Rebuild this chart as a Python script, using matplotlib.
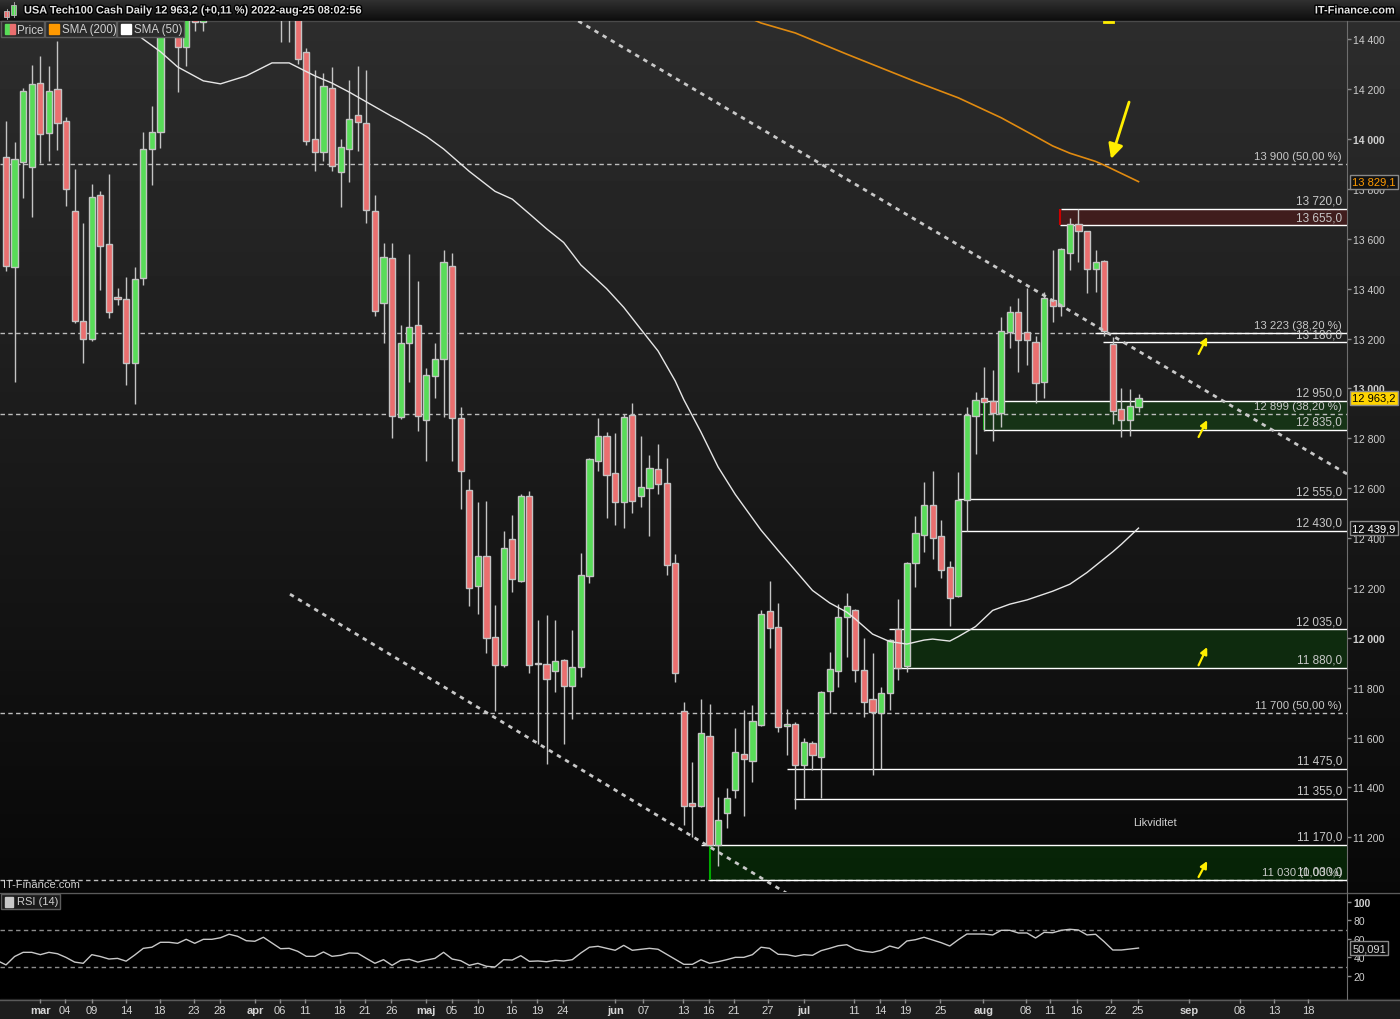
import numpy as np
import matplotlib
matplotlib.use("Agg")
import matplotlib.pyplot as plt
import matplotlib.patheffects as pe
from matplotlib.patches import Rectangle
from matplotlib.transforms import blended_transform_factory

plt.rcParams['font.family'] = ['Liberation Sans', 'DejaVu Sans']

# daily candles, index 0 = first bar on the left (late feb 2022)
opens = [13927, 13486, 13907, 13887, 14224, 14024, 14200, 14072, 13711, 13270,
         13198, 13775, 13579, 13365, 13358, 13101, 13442, 13960, 14028, 14440,
         14560, 14369, 14540, 14469, 14560, 14850, 15050, 14900, 14780, 14850,
         14900, 14650, 14600, 14500, 14560, 14349, 14000, 13948, 14204, 13867,
         13960, 14096, 14064, 13711, 13342, 13523, 12885, 13182, 13254, 12873,
         13050, 13118, 13491, 12881, 12592, 12207, 12328, 12003, 11890, 12396,
         12227, 12568, 11898, 11894, 11866, 11910, 11806, 11883, 12248, 12709,
         12809, 12660, 12544, 12893, 12568, 12600, 12676, 12620, 12300, 11706,
         11337, 11325, 11606, 11169, 11297, 11389, 11534, 11506, 11650, 12107,
         12043, 11646, 11654, 11490, 11578, 11522, 11786, 11866, 12083, 12111,
         11871, 11754, 11698, 11778, 12035, 11887, 12300, 12412, 12532, 12408,
         12284, 12167, 12552, 12889, 12961, 12949, 12901, 13226, 13306, 13226,
         13186, 13026, 13354, 13330, 13543, 13659, 13631, 13479, 13511, 13178,
         12917, 12873, 12925]
highs = [14072, 13988, 14204, 14296, 14332, 14292, 14393, 14088, 13879, 13663,
         13819, 13790, 13859, 13402, 13446, 13486, 14028, 14132, 14520, 14620,
         14640, 14600, 14620, 14640, 14900, 15150, 15100, 14950, 14900, 14950,
         14920, 14700, 14650, 14620, 14600, 14365, 14276, 14264, 14288, 14000,
         14236, 14292, 14276, 13775, 13583, 13583, 13254, 13539, 13430, 13082,
         13182, 13555, 13543, 12925, 12636, 12544, 12548, 12131, 12428, 12492,
         12576, 12588, 12071, 12091, 12071, 11914, 12031, 12340, 12720, 12881,
         12825, 12821, 12897, 12941, 12809, 12732, 12777, 12721, 12336, 11742,
         11502, 11754, 11734, 11361, 11397, 11638, 11710, 11730, 12111, 12227,
         12139, 11714, 11662, 11598, 11586, 11786, 11943, 12135, 12179, 12115,
         11999, 11939, 11802, 11995, 12155, 12304, 12488, 12624, 12668, 12472,
         12308, 12665, 12925, 12985, 13086, 13074, 13286, 13330, 13362, 13402,
         13210, 13386, 13555, 13563, 13683, 13719, 13633, 13555, 13515, 13206,
         13001, 12997, 12977]
lows = [13470, 13025, 13763, 13687, 13903, 13911, 13956, 13731, 13262, 13101,
        13190, 13394, 13282, 13334, 13013, 12937, 13414, 13815, 13964, 14420,
        14188, 14293, 14433, 14433, 14520, 14800, 14850, 14700, 14680, 14750,
        14600, 14500, 14389, 14389, 14301, 13976, 13871, 13911, 13871, 13727,
        13827, 13952, 13663, 13290, 13182, 12801, 12877, 13025, 12829, 12709,
        12961, 12885, 12709, 12516, 12127, 12095, 11939, 11706, 11885, 12183,
        12222, 11858, 11574, 11494, 11782, 11574, 11674, 11842, 12220, 12668,
        12480, 12452, 12440, 12500, 12524, 12408, 12576, 12251, 11822, 11249,
        11201, 11321, 11165, 11085, 11237, 11357, 11285, 11421, 11646, 11959,
        11622, 11530, 11313, 11357, 11470, 11357, 11698, 11802, 11923, 11822,
        11682, 11450, 11474, 11710, 11830, 11863, 12203, 12344, 12316, 12240,
        12047, 12163, 12428, 12737, 12829, 12789, 12845, 13162, 13066, 13094,
        12941, 12961, 13266, 13290, 13475, 13507, 13382, 13386, 13210, 12857,
        12805, 12809, 12905]
closes = [13490, 13919, 14192, 14220, 14020, 14192, 14064, 13799, 13270, 13198,
          13767, 13571, 13306, 13360, 13101, 13438, 13960, 14028, 14440, 14560,
          14369, 14540, 14469, 14560, 14850, 15050, 14900, 14780, 14850, 14900,
          14650, 14580, 14500, 14560, 14321, 13992, 13948, 14212, 13891, 13968,
          14080, 14068, 13715, 13310, 13527, 12889, 13182, 13246, 12889, 13054,
          13118, 13507, 12881, 12668, 12199, 12328, 11999, 11890, 12360, 12236,
          12568, 11890, 11894, 11834, 11906, 11806, 11883, 12252, 12717, 12809,
          12653, 12544, 12885, 12548, 12604, 12680, 12616, 12292, 11859, 11325,
          11325, 11618, 11169, 11269, 11357, 11542, 11514, 11666, 12095, 12039,
          11642, 11654, 11490, 11582, 11530, 11782, 11874, 12083, 12127, 11871,
          11742, 11702, 11778, 11991, 11879, 12300, 12420, 12532, 12400, 12272,
          12159, 12552, 12893, 12953, 12945, 12901, 13230, 13306, 13194, 13194,
          13022, 13362, 13330, 13559, 13659, 13631, 13479, 13507, 13230, 12909,
          12873, 12929, 12963]

# moving averages (bar index, value)
sma50_idx = [13, 16, 18, 20, 23, 25, 28, 31, 33, 36, 38, 40, 45, 46, 49, 51, 54, 57,
             59, 61, 63, 65, 67, 70, 72, 74, 76, 78, 79, 81, 83, 85, 88, 90, 91, 92,
             94, 96, 98, 99, 101, 103, 105, 107, 108, 110, 111, 113, 115, 117, 119,
             122, 124, 126, 129, 130, 132]
sma50_val = [14480, 14400, 14350, 14289, 14233, 14221, 14253, 14305, 14305, 14253,
             14224, 14188, 14090, 14072, 14010, 13960, 13870, 13790, 13759, 13700,
             13640, 13585, 13495, 13400, 13325, 13237, 13150, 13030, 12955, 12825,
             12685, 12575, 12432, 12350, 12310, 12270, 12190, 12140, 12103, 12075,
             12015, 11985, 11975, 11991, 11995, 11987, 12005, 12045, 12110, 12135,
             12152, 12187, 12215, 12262, 12345, 12375, 12440]
sma200_idx = [85, 88, 92, 98, 102, 106, 111, 116, 120, 122, 124, 127, 128, 130, 132]
sma200_val = [14510, 14465, 14425, 14340, 14285, 14230, 14165, 14085, 14010, 13972,
              13943, 13910, 13895, 13862, 13829]

# RSI(14), first value at index -1
rsi = [36.5, 32, 41, 45.5, 45.5, 43, 45.5, 44, 40, 35,
       33.7, 43, 41, 38.3, 39, 36, 42.6, 49.8, 51, 56.3,
       56.3, 55.2, 59.5, 55.2, 59.5, 59.5, 61.2, 65, 62.7, 58,
       57.4, 61.7, 55.5, 49.4, 49.8, 46.6, 41.2, 41.2, 45.9, 41.2,
       42.3, 44.8, 44.5, 39, 33.7, 37.6, 31.5, 36.9, 38, 35,
       37.2, 39, 45.5, 38.3, 36.5, 31.5, 33.7, 30.5, 29.7, 37.6,
       37.2, 41.9, 35.8, 36.2, 35.4, 36.9, 36.2, 37.6, 44.8, 51,
       52, 49.8, 47.7, 53, 47.7, 48.8, 49.8, 48.8, 43.4, 38,
       32.6, 32.6, 37.5, 33.7, 35.4, 37.6, 40.1, 40.1, 43, 51,
       49.8, 43.4, 43, 41.2, 43, 42.3, 47.3, 49.8, 52.6, 53.7,
       48.8, 46.6, 45.5, 47.7, 52.3, 49.8, 57.7, 59.1, 61.7, 58.8,
       55.9, 52.3, 59.1, 65.2, 65.2, 65.2, 64.2, 69.2, 69.2, 66.3,
       66.3, 60.9, 67, 66.6, 69.2, 70.3, 69.5, 64.2, 64.9, 56.9,
       48, 48, 49, 50.1]

# fibonacci levels (dashed, full width)
fib_values = [13900, 13223, 12899, 11700, 11030]
fib_labels = ["13 900 (50,00 %)", "13 223 (38,20 %)", "12 899 (38,20 %)",
              "11 700 (50,00 %)", "11 030 (0,00 %)"]

# horizontal levels drawn from a given bar to the right edge
level_values = [13720, 13655, 13223, 13186, 12950, 12835, 12555, 12430,
                12035, 11880, 11475, 11355, 11170, 11030]
level_start = [123, 122.9, 126.9, 127.9, 114, 114, 111, 111,
               102.9, 102.9, 91, 91.9, 81, 81.9]
level_labels = ["13 720,0", "13 655,0", "", "13 186,0", "12 950,0", "12 835,0",
                "12 555,0", "12 430,0", "12 035,0", "11 880,0", "11 475,0",
                "11 355,0", "11 170,0", "11 030,0"]

# zones
zone_lo = [13655, 12835, 11880, 11030]
zone_hi = [13720, 12950, 12035, 11170]
zone_start = [122.9, 114, 104, 82]
zone_col = ['#cc0000', '#00aa00', '#00aa00', '#00aa00']

# trend lines (bar index, price)
trend_hi_x, trend_hi_y = [66.7, 160], [14473, 12582]
trend_lo_x, trend_lo_y = [33.1, 92], [12175, 10955]

# yellow arrows: (x_from, y_from, x_to, y_to)
big_arrow = (130.9, 14148, 128.8, 13920)
small_arrows = [(139.0, 13138, 140.0, 13206), (139.0, 12805, 140.0, 12873),
                (139.0, 11890, 140.0, 11963), (139.0, 11041, 140.0, 11105)]

price_ticks = list(range(11200, 14401, 200))
bold_ticks = [12000, 13000, 14000]

date_pos = [4.0, 6.9, 10.0, 14.0, 17.9, 21.9, 24.9, 29.0, 31.9, 34.8, 38.9, 41.8,
            44.9, 49.0, 52.0, 55.0, 58.9, 61.9, 64.9, 71.0, 74.3, 78.9, 81.9, 84.8,
            88.8, 93.0, 98.8, 101.9, 104.8, 108.9, 113.9, 118.9, 121.7, 124.8,
            128.8, 131.9, 137.9, 143.8, 147.8, 151.8]
date_lbl = ['mar', '04', '09', '14', '18', '23', '28', 'apr', '06', '11', '18', '21',
            '26', 'maj', '05', '10', '16', '19', '24', 'jun', '07', '13', '16', '21',
            '27', 'jul', '11', '14', '19', '25', 'aug', '08', '11', '16', '22', '25',
            'sep', '08', '13', '18']
months = {'mar', 'apr', 'maj', 'jun', 'jul', 'aug', 'sep'}

W, H = 1400, 1020
XL = (-0.7, 156.3)
TXT = '#d0d0d0'

fig = plt.figure(figsize=(W / 100, H / 100), dpi=100)
fig.patch.set_facecolor('black')

# background
bg = fig.add_axes([0, 0, 1, 1])
bg.imshow(np.linspace(0.2, 0.05, 64)[:, None], cmap='gray', vmin=0, vmax=1,
          extent=(0, W, 22, 0), aspect='auto')
bg.imshow(np.linspace(0.175, 0.03, 256)[:, None], cmap='gray', vmin=0, vmax=1,
          extent=(0, W, 893, 22), aspect='auto')
bg.add_patch(Rectangle((0, 893), W, 107, color='black'))
bg.add_patch(Rectangle((0, 1000), W, 20, color='#1d1d1d'))
bg.plot([0, W], [22, 22], color='#4a4a4a', lw=1)
bg.plot([0, W], [893.5, 893.5], color='#5a5a5a', lw=1)
bg.plot([0, W], [1000.5, 1000.5], color='#5a5a5a', lw=1)
bg.set_xlim(0, W)
bg.set_ylim(H, 0)
bg.axis('off')

# price panel
ax = fig.add_axes([0, 1 - 893 / H, 1347 / W, 871 / H])
ax.set_facecolor('none')
ax.set_xlim(*XL)
ax.set_ylim(10981, 14473)

for v in fib_values:
    ax.axhline(v, color='#bdbdbd', lw=1, dashes=(3.2, 2.4), zorder=2)

for lo, hi, x0, col in zip(zone_lo, zone_hi, zone_start, zone_col):
    ax.fill_between([x0, XL[1]], lo, hi, color=col, alpha=0.17, lw=0, zorder=1.5)
    ax.vlines(x0, lo, hi, color=col, lw=1.5, zorder=2.6)

ax.hlines(level_values, level_start, XL[1], colors='white', lw=1, zorder=2.5)

ax.plot(trend_hi_x, trend_hi_y, color='#c8c8c8', lw=2, dashes=(1.6, 1.8), zorder=5)
ax.plot(trend_lo_x, trend_lo_y, color='#c8c8c8', lw=2, dashes=(1.6, 1.8), zorder=5)

o = np.array(opens, dtype=float)
c = np.array(closes, dtype=float)
idx = np.arange(len(c))
up = c >= o
body_lo = np.minimum(o, c)
body_h = np.maximum(np.abs(c - o), 5)
ax.vlines(idx, lows, highs, color='#c4c4c4', lw=1, zorder=3)
ax.bar(idx, body_h, bottom=body_lo, width=0.72,
       color=np.where(up, '#58dc58', '#ea6f6f'), edgecolor='#c4c4c4',
       linewidth=1, zorder=4)

ax.plot(sma50_idx, sma50_val, color='#e6e6e6', lw=1, zorder=5)
ax.plot(sma200_idx, sma200_val, color='#e08a10', lw=1.2, zorder=5)

# level and fib labels at the right edge
tr = blended_transform_factory(ax.transAxes, ax.transData)
for v, t in zip(fib_values, fib_labels):
    ax.annotate(t, xy=(1, v), xycoords=tr, xytext=(-5, 5), textcoords='offset pixels',
                ha='right', va='baseline', color='#c8c8c8', fontsize=8.2, zorder=6)
for v, t in zip(level_values, level_labels):
    if t:
        ax.annotate(t, xy=(1, v), xycoords=tr, xytext=(-5, 5), textcoords='offset pixels',
                    ha='right', va='baseline', color='#c8c8c8', fontsize=8.5, zorder=6)

ax.text(133.9, 11261, 'Likviditet', color=TXT, fontsize=8, ha='center', va='center')

ax.annotate('', xy=big_arrow[2:], xytext=big_arrow[:2],
            arrowprops=dict(arrowstyle='-|>', color='#ffee00', lw=2,
                            mutation_scale=22, shrinkA=0, shrinkB=0), zorder=7)
for a in small_arrows:
    ax.annotate('', xy=a[2:], xytext=a[:2],
                arrowprops=dict(arrowstyle='-|>', color='#ffee00', lw=1.6,
                                mutation_scale=10, shrinkA=0, shrinkB=0), zorder=7)
ax.plot([128.0, 129.0], [14468, 14468], color='#ffee00', lw=2, zorder=7)

ax.text(0.002, 0.004, 'IT-Finance.com', transform=ax.transAxes, color=TXT,
        fontsize=8, ha='left', va='bottom')

ax.yaxis.tick_right()
ax.set_yticks(price_ticks)
ax.set_yticklabels([f"{v:,}".replace(",", " ") for v in price_ticks])
for lab, v in zip(ax.get_yticklabels(), price_ticks):
    if v in bold_ticks:
        lab.set_fontweight('bold')
        lab.set_fontsize(8.5)
        lab.set_color('white')
ax.tick_params(axis='y', colors='#8a8a8a', labelcolor='#cfcfcf', labelsize=7.5,
               length=3, width=1, pad=1.5)
ax.set_xticks([])
for s in ['top', 'bottom', 'left']:
    ax.spines[s].set_visible(False)
ax.spines['right'].set_color('#6e6e6e')

# current price boxes on the right axis
ax.text(1.004, 13829, '13 829,1', transform=tr, color='#ff9a00', fontsize=8,
        va='center', ha='left', clip_on=False, zorder=10,
        bbox=dict(boxstyle='square,pad=0.18', fc='#121212', ec='#8a8a8a', lw=1))
ax.text(1.004, 12963, '12 963,2', transform=tr, color='black', fontsize=8,
        va='center', ha='left', clip_on=False, zorder=10,
        bbox=dict(boxstyle='square,pad=0.18', fc='#ffd400', ec='#8a8a8a', lw=1))
ax.text(1.004, 12440, '12 439,9', transform=tr, color='white', fontsize=8,
        va='center', ha='left', clip_on=False, zorder=10,
        bbox=dict(boxstyle='square,pad=0.18', fc='#121212', ec='#8a8a8a', lw=1))

# RSI panel
rx = fig.add_axes([0, 1 - 1000 / H, 1347 / W, 107 / H])
rx.set_facecolor('none')
rx.set_xlim(*XL)
rx.set_ylim(-4.7, 110.4)
rx.axhline(70, color='#8c8c8c', lw=1, dashes=(3.2, 2.4))
rx.axhline(30, color='#8c8c8c', lw=1, dashes=(3.2, 2.4))
rx.plot(np.arange(-1, len(rsi) - 1), rsi, color='#c8c8c8', lw=1)
rx.yaxis.tick_right()
rx.set_yticks([20, 40, 60, 80, 100])
rx.set_yticklabels(['20', '40', '60', '80', '100'])
for lab in rx.get_yticklabels():
    if lab.get_text() == '100':
        lab.set_fontweight('bold')
        lab.set_fontsize(8.5)
        lab.set_color('white')
rx.tick_params(axis='y', colors='#8a8a8a', labelcolor='#cfcfcf', labelsize=7.5,
               length=3, width=1, pad=1.5)
rx.set_xticks(date_pos)
rx.set_xticklabels(date_lbl)
for lab in rx.get_xticklabels():
    if lab.get_text() in months:
        lab.set_fontweight('bold')
        lab.set_color('white')
        lab.set_fontsize(8.5)
rx.tick_params(axis='x', colors='#8a8a8a', labelcolor='#d4d4d4', labelsize=8,
               length=3, width=1, pad=1.5)
for s in ['top', 'bottom', 'left']:
    rx.spines[s].set_visible(False)
rx.spines['right'].set_color('#6e6e6e')
rtr = blended_transform_factory(rx.transAxes, rx.transData)
rx.text(1.004, rsi[-1], '50,091', transform=rtr, color='#d8d8d8', fontsize=8,
        va='center', ha='left', clip_on=False, zorder=10,
        bbox=dict(boxstyle='square,pad=0.18', fc='#0a0a0a', ec='#8a8a8a', lw=1))

# overlay: header and legends
ov = fig.add_axes([0, 0, 1, 1])
ov.set_facecolor('none')
ov.set_xlim(0, W)
ov.set_ylim(H, 0)
ov.axis('off')
shadow = [pe.withStroke(linewidth=2, foreground='black')]
ov.add_patch(Rectangle((4, 12), 5, 6, fc='#ea6f6f', ec='#bbbbbb', lw=0.6))
ov.plot([6.5, 6.5], [10, 20], color='#bbbbbb', lw=0.6)
ov.add_patch(Rectangle((11, 6), 5, 10, fc='#58dc58', ec='#bbbbbb', lw=0.6))
ov.plot([13.5, 13.5], [3, 18], color='#bbbbbb', lw=0.6)
ov.text(24, 11.5, 'USA Tech100 Cash Daily 12 963,2 (+0,11 %) 2022-aug-25 08:02:56',
        color='#e4e4e4', fontsize=7.9, fontweight='bold', va='center', ha='left',
        path_effects=shadow)
ov.text(1395, 11.5, 'IT-Finance.com', color='#e4e4e4', fontsize=7.9,
        fontweight='bold', va='center', ha='right', path_effects=shadow)

legend_boxes = [(1, 43, 'Price'), (44.5, 71.5, 'SMA (200)'), (116.5, 67, 'SMA (50)')]
for x0, w, t in legend_boxes:
    ov.add_patch(Rectangle((x0, 22), w, 16, fc='#2b2b2b', ec='#5c5c5c', lw=1))
ov.add_patch(Rectangle((5, 25), 5, 10, color='#58dc58'))
ov.add_patch(Rectangle((10, 25), 5, 10, color='#ea6f6f'))
ov.add_patch(Rectangle((49, 25), 10, 10, color='#ff9900'))
ov.add_patch(Rectangle((121, 25), 10, 10, color='white'))
ov.text(17, 30.5, 'Price', color=TXT, fontsize=8.3, va='center')
ov.text(62, 30.5, 'SMA (200)', color=TXT, fontsize=8.3, va='center')
ov.text(134, 30.5, 'SMA (50)', color=TXT, fontsize=8.3, va='center')

ov.add_patch(Rectangle((1, 895), 59, 15, fc='#1a1a1a', ec='#5c5c5c', lw=1))
ov.add_patch(Rectangle((5, 898), 8, 10, color='#c8c8c8'))
ov.text(17, 902.5, 'RSI (14)', color=TXT, fontsize=8, va='center')

fig.savefig('out.png', dpi=100, facecolor=fig.get_facecolor())
